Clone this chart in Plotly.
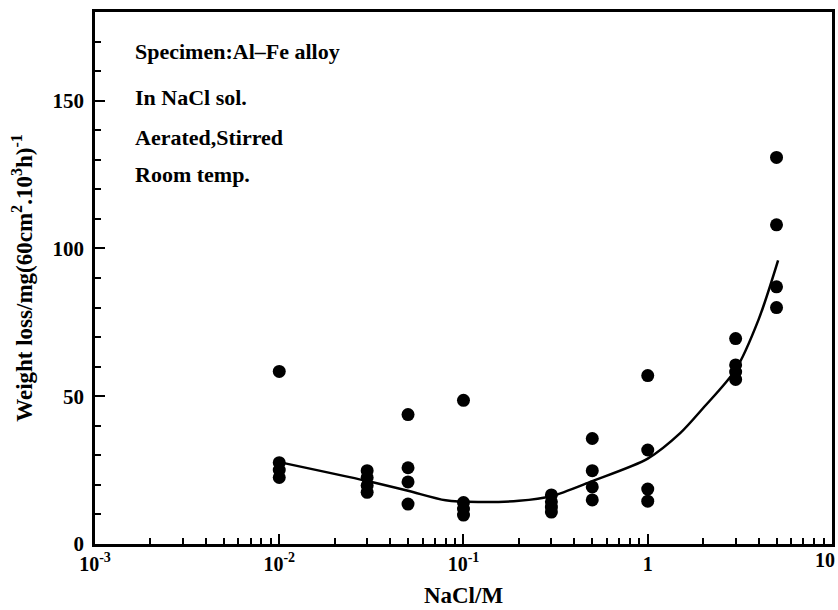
import plotly.graph_objects as go

# Measured data (NaCl concentration in M, weight loss)
nacl_x = [0.01, 0.01, 0.01, 0.01,
          0.03, 0.03, 0.03, 0.03,
          0.05, 0.05, 0.05, 0.05,
          0.1, 0.1, 0.1, 0.1,
          0.3, 0.3, 0.3, 0.3,
          0.5, 0.5, 0.5, 0.5,
          1, 1, 1, 1,
          3, 3, 3, 3,
          5, 5, 5, 5]
weight_loss = [58.4, 27.5, 25.0, 22.5,
               24.8, 22.5, 19.8, 17.5,
               43.8, 25.8, 21.0, 13.5,
               48.6, 14.0, 11.8, 9.8,
               16.6, 14.3, 12.5, 10.8,
               35.7, 24.8, 19.3, 14.9,
               57.0, 31.8, 18.6, 14.5,
               69.5, 60.6, 58.2, 55.7,
               130.8, 108.0, 87.0, 80.0]

# Fitted curve
fit_x = [0.01, 0.03, 0.05, 0.08, 0.12, 0.2, 0.3, 0.5, 1.0, 1.5, 2.0, 3.0, 4.0, 5.1]
fit_y = [27.7, 21.3, 18.0, 14.8, 14.2, 14.6, 16.2, 21.3, 28.9, 37.5, 46.0, 59.0, 76.0, 96.0]

x_major = [0.001, 0.01, 0.1, 1, 10]
x_major_text = ["10<sup>-3</sup>", "10<sup>-2</sup>", "10<sup>-1</sup>", "1", ""]
x_last_label = "10"
x_minor = [m * d for d in [0.001, 0.01, 0.1, 1] for m in range(2, 10)]
y_major = [0, 50, 100, 150]

notes = ["Specimen:Al\u2013Fe alloy", "In NaCl sol.", "Aerated,Stirred", "Room temp."]
note_y = [0.925, 0.840, 0.765, 0.694]

FONT = "Liberation Serif"

fig = go.Figure()
fig.add_trace(go.Scatter(x=fit_x, y=fit_y, mode="lines",
                         line=dict(color="black", width=2.5, shape="spline", smoothing=0.8),
                         showlegend=False, hoverinfo="skip"))
fig.add_trace(go.Scatter(x=nacl_x, y=weight_loss, mode="markers",
                         marker=dict(color="black", size=13),
                         showlegend=False))

for t, yy in zip(notes, note_y):
    fig.add_annotation(text="<b>" + t + "</b>", x=0.052, y=yy, xref="paper", yref="paper",
                       xanchor="left", yanchor="middle", showarrow=False,
                       font=dict(family=FONT, size=22, color="black"))

# last x tick label, kept inside the page
fig.add_annotation(text="<b>" + x_last_label + "</b>", x=1, y=0, xref="paper", yref="paper",
                   xanchor="center", yanchor="top", xshift=-7, yshift=-3, showarrow=False,
                   font=dict(family=FONT, size=20, color="black"))

fig.update_layout(
    width=838, height=610,
    margin=dict(l=95, r=6, t=12, b=66, autoexpand=False),
    paper_bgcolor="white", plot_bgcolor="white",
    font=dict(family=FONT, color="black"),
    xaxis=dict(type="log", range=[-3, 1.0001], showgrid=False, zeroline=False,
               automargin=False,
               showline=True, linecolor="black", linewidth=2.5, mirror=True,
               ticks="inside", ticklen=10, tickwidth=2, tickcolor="black",
               tickmode="array", tickvals=x_major, ticktext=x_major_text,
               tickfont=dict(family=FONT, size=20, color="black", weight="bold"),
               minor=dict(tickmode="array", tickvals=x_minor, ticks="inside",
                          ticklen=6, tickwidth=2, tickcolor="black", showgrid=False),
               title=dict(text="<b>NaCl/M</b>", font=dict(family=FONT, size=23, color="black"),
                          standoff=14)),
    yaxis=dict(range=[0, 180], showgrid=False, zeroline=False,
               automargin=False,
               showline=True, linecolor="black", linewidth=2.5, mirror=True,
               ticks="inside", ticklen=10, tickwidth=2, tickcolor="black",
               tickmode="array", tickvals=y_major, ticklabelstandoff=4,
               tickfont=dict(family=FONT, size=21, color="black", weight="bold"),
               minor=dict(dtick=10, ticks="inside", ticklen=6, tickwidth=2,
                          tickcolor="black", showgrid=False),
               title=dict(text="<b>Weight loss/mg(60cm<sup>2</sup>.10<sup>3</sup>h)<sup>-1</sup></b>",
                          font=dict(family=FONT, size=23, color="black"), standoff=14)),
)

fig.write_html("out.html")
